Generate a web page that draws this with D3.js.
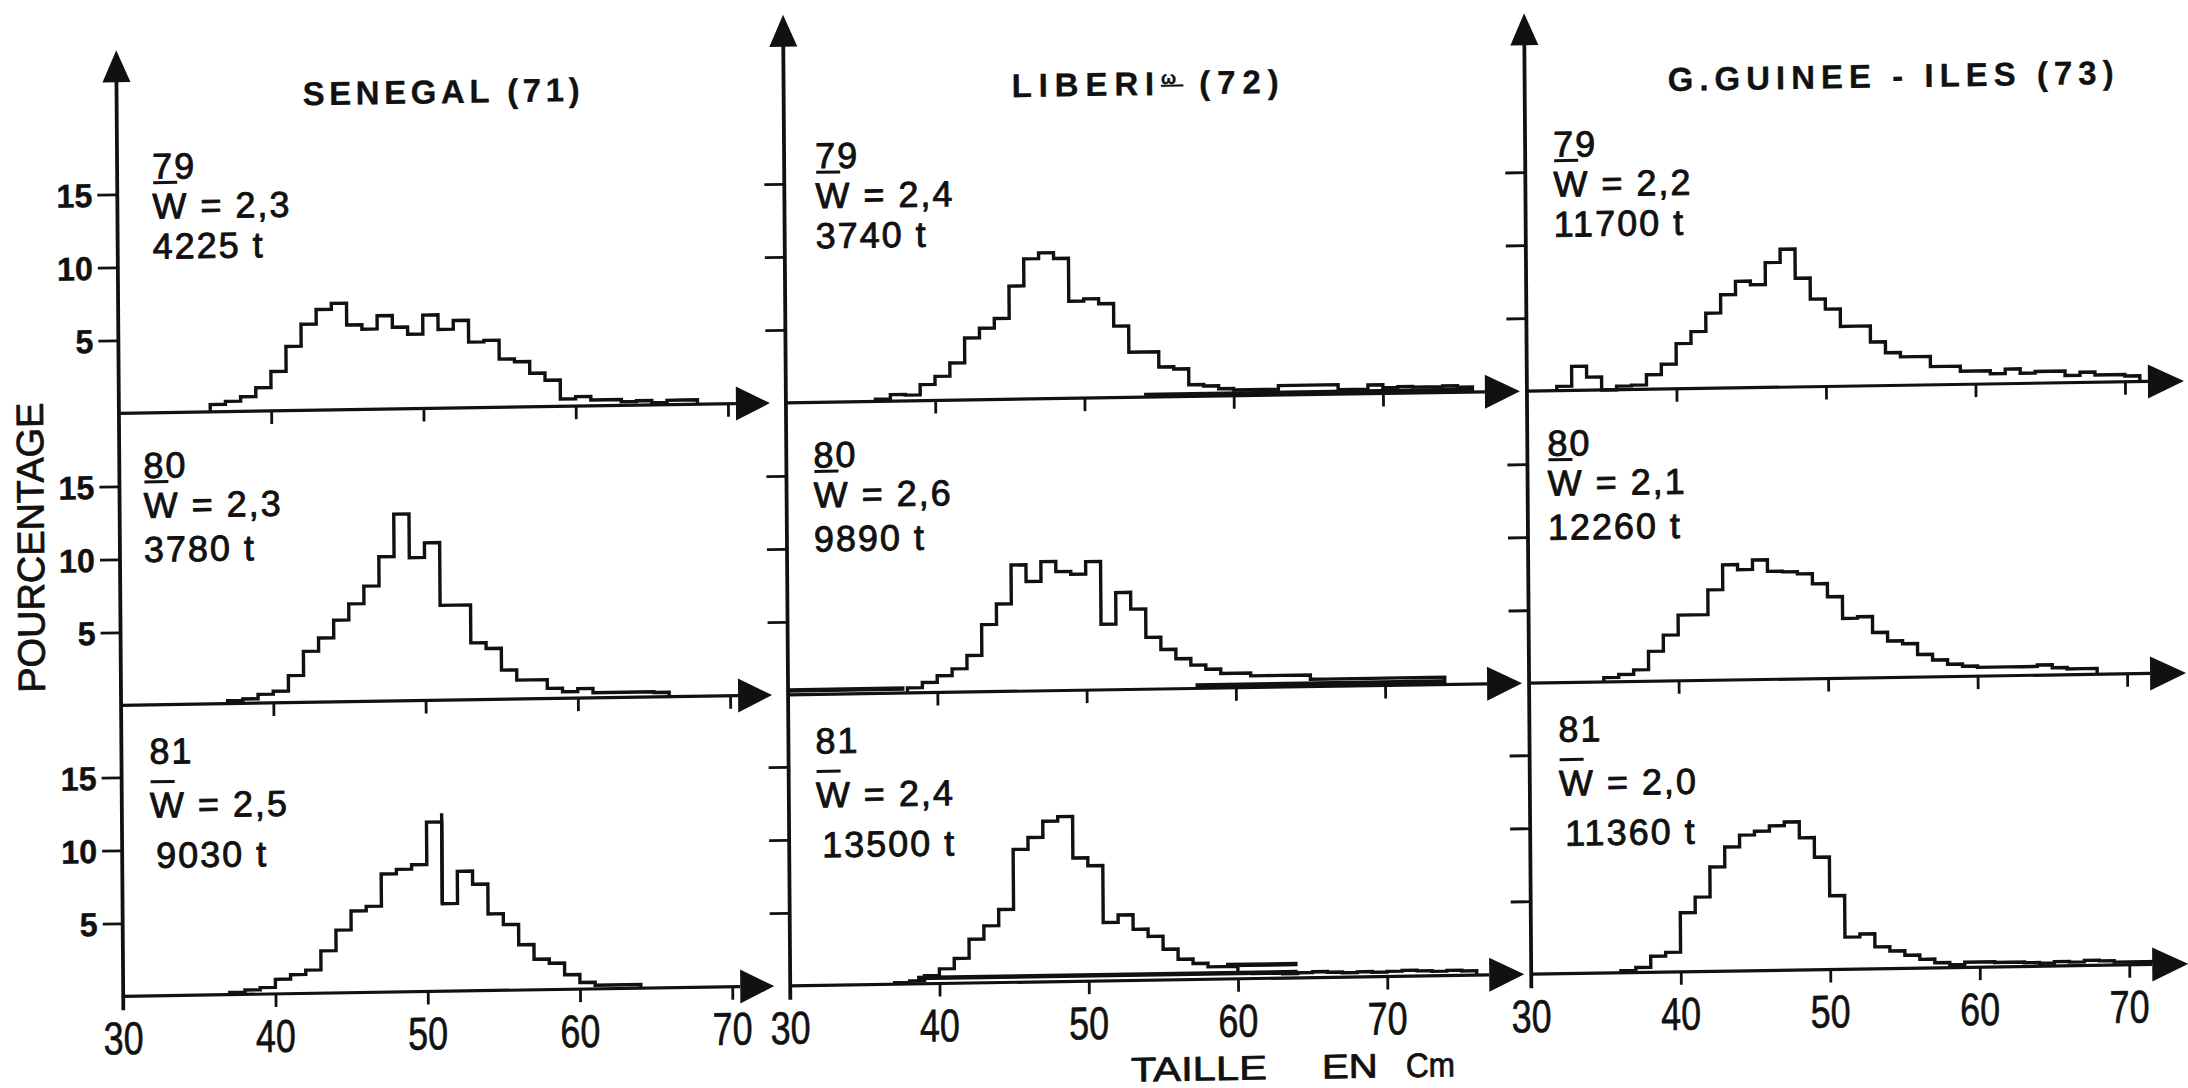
<!DOCTYPE html>
<html>
<head>
<meta charset="utf-8">
<script src="https://cdn.jsdelivr.net/npm/d3@7"></script>
<style>
  html, body { margin: 0; padding: 0; background: #fff; }
  svg { display: block; }
</style>
</head>
<body>
<svg id="chart" width="2188" height="1088"></svg>
<script>
// ---- Length-frequency distributions (% per 1 cm class) ----
const regions = ["SENEGAL", "LIBERIA", "G.GUINEE - ILES"];
const regionCodes = ["71", "72", "73"];
const years = ["79", "80", "81"];
const meanWeights = [["2,3", "2,3", "2,5"], ["2,4", "2,6", "2,4"], ["2,2", "2,1", "2,0"]];
const catchTonnes = [["4225", "3780", "9030"], ["3740", "9890", "13500"], ["11700", "12260", "11360"]];
const xTicks = [30, 40, 50, 60, 70];
const yTicks = [5, 10, 15];

// first length class (cm) of each distribution, [region][year]
const firstClass = [[36, 37, 37], [36, 38, 37], [32, 35, 36]];

const senegal79 = [0.5, 0.7, 1.0, 1.6, 2.7, 4.4, 5.9, 6.9, 7.3, 5.8, 5.5, 6.4, 5.6, 5.1, 6.4, 5.4,
  6.0, 4.5, 4.6, 3.3, 3.1, 2.3, 1.8, 0.5, 0.65, 0.4, 0.4, 0.25, 0.3, 0.15, 0.3, 0.3];
const senegal80 = [0.2, 0.3, 0.6, 0.8, 1.85, 3.5, 4.4, 5.6, 6.7, 7.9, 9.9, 12.8, 9.8, 10.8, 6.5,
  6.5, 3.9, 3.5, 2.0, 1.3, 1.3, 0.7, 0.45, 0.65, 0.35, 0.35, 0.35, 0.35, 0.3];
const senegal81 = [0.15, 0.3, 0.45, 1.0, 1.3, 1.6, 2.9, 4.3, 5.6, 5.9, 8.1, 8.4, 8.7, 11.6, 6.0,
  8.2, 7.3, 5.25, 4.5, 3.1, 2.1, 1.8, 1.0, 0.45, 0.25, 0.25, 0.25];
const liberia79 = [0.15, 0.45, 0.4, 1.1, 1.65, 2.55, 4.25, 4.9, 5.55, 7.75, 9.6, 10.0, 9.6, 6.65,
  6.8, 6.45, 4.9, 3.1, 3.1, 2.05, 1.9, 0.8, 0.7, 0.5, 0.4, 0.4, 0.4, 0.65, 0.65, 0.65, 0.65, 0.3,
  0.3, 0.6, 0.4, 0.45, 0.4, 0.4, 0.45, 0.35];
const liberia80 = [0.35, 0.7, 1.15, 1.6, 2.5, 4.6, 6.0, 8.65, 7.5, 8.85, 8.15, 7.95, 8.8, 4.5, 6.65,
  5.5, 3.55, 2.7, 2.05, 1.6, 1.3, 1.0, 1.0, 0.8, 0.8, 0.8, 0.8, 0.5, 0.5, 0.5, 0.5, 0.5, 0.5, 0.5,
  0.5, 0.5];
const liberia81 = [0.1, 0.2, 0.55, 1.0, 1.7, 3.0, 3.9, 5.0, 9.1, 9.9, 11.0, 11.3, 8.45, 7.9, 4.0,
  4.5, 3.5, 3.0, 2.1, 1.4, 1.1, 0.85, 0.85, 0.4, 0.35, 0.35, 0.3, 0.35, 0.4, 0.35, 0.3, 0.35, 0.3,
  0.35, 0.4, 0.35, 0.3, 0.35, 0.3];
const guinea79 = [0.3, 1.65, 0.9, 0, 0.25, 0.3, 1.0, 1.7, 3.1, 3.9, 5.15, 6.4, 7.3, 7.05, 8.55, 9.45,
  7.45, 6.0, 5.3, 4.1, 4.1, 3.0, 2.25, 1.95, 1.95, 1.25, 1.25, 0.9, 0.9, 0.7, 1.0, 0.7, 0.8, 0.8,
  0.5, 0.7, 0.5, 0.5, 0.4];
const guinea80 = [0.3, 0.5, 0.8, 2.05, 3.15, 4.5, 4.5, 6.2, 7.9, 7.55, 8.2, 7.4, 7.35, 7.2, 6.5, 5.6,
  4.1, 4.2, 3.1, 2.5, 2.3, 1.55, 1.15, 0.85, 0.7, 0.6, 0.6, 0.6, 0.6, 0.7, 0.5, 0.4, 0.4];
const guinea81 = [0.15, 0.35, 1.1, 1.35, 4.05, 5.1, 7.15, 8.5, 9.3, 9.55, 9.9, 10.15, 9.05, 7.7,
  5.05, 2.2, 2.4, 1.5, 1.2, 0.9, 0.6, 0.35, 0.2, 0.35, 0.35, 0.3, 0.3, 0.25, 0.2, 0.3, 0.25, 0.35,
  0.3, 0.2, 0.2, 0.2];

const distributions = [
  [senegal79, senegal80, senegal81],
  [liberia79, liberia80, liberia81],
  [guinea79, guinea80, guinea81]
];

// pen overshoot at the 51 cm class boundary (Senegal 81)
const spikes = [{ region: 0, year: 2, cm: 51, pct: 12.2 }];

// heavy low-level tracings near the abscissa (Liberia)
const overlays = [
  { region: 1, year: 0, from: 54, to: 76, pct: 0.15 },
  { region: 1, year: 1, from: 30, to: 37.8, pct: 0.3 },
  { region: 1, year: 1, from: 57.3, to: 74, pct: 0.2 },
  { region: 1, year: 2, from: 38.5, to: 64, pct: 0.4 },
  { region: 1, year: 2, from: 59.2, to: 64, pct: 0.95 }
];

// ---- layout ----
const colRange = [[120, 729], [787, 1384], [1528, 2126]];
const rowBase = [398, 690, 981];
const pctPx = 14.6;
const axisTip = [35, 10, 20];
const hArrow = [[737, 771], [1486, 1521], [2149, 2185]];
const titleBase = [93, 96, 100];
const titleSpan = [[306, 583], [1015, 1282], [1671, 2117]];
const labelDy = [[-234, -194, -154], [-227, -187, -143], [-232, -178, -128]];
const labelDx = [[35, 24, 28], [31, 27, 27], [28, 20, 29]];

const INK = "#111";
const FONT = "'Liberation Sans', Arial, sans-serif";

const svg = d3.select("#chart");
svg.append("rect").attr("width", 2188).attr("height", 1088).attr("fill", "#fff");

// the whole drawing sits slightly askew on the sheet
const root = svg.append("g").attr("transform", "matrix(1,-0.0157,0.0074,1,-4.03,17.18)");

function fitSpacing(sel, width) {
  const node = sel.node();
  const n = node.getNumberOfChars();
  const w = node.getComputedTextLength();
  if (n > 1) sel.attr("letter-spacing", (width - w) / (n - 1));
}

// hand lettering: glyphs drawn with a slightly heavier pen
function ink(sel, w) {
  return sel.attr("fill", INK).attr("stroke", INK).attr("stroke-width", w)
    .attr("stroke-linejoin", "round");
}

for (let c = 0; c < 3; c++) {
  const x = d3.scaleLinear().domain([30, 70]).range(colRange[c]);
  const col = root.append("g").attr("class", "region");
  const ax = x(30);

  // vertical axis with arrow
  const bottom = rowBase[2] + 14;
  col.append("line")
    .attr("x1", ax).attr("x2", ax)
    .attr("y1", axisTip[c] + 20).attr("y2", bottom)
    .attr("stroke", INK).attr("stroke-width", 3.8);
  col.append("path")
    .attr("d", `M${ax - 14},${axisTip[c] + 32}L${ax},${axisTip[c]}L${ax + 14},${axisTip[c] + 32}Z`)
    .attr("fill", INK);

  // region title
  const title = col.append("text")
    .attr("x", titleSpan[c][0]).attr("y", titleBase[c])
    .attr("font-family", FONT).attr("font-size", 33).attr("font-weight", "bold");
  ink(title, 0.3);
  if (c === 1) {
    title.append("tspan").text("LIBERI");
    title.append("tspan").attr("font-size", 18).attr("dy", -11)
      .attr("text-decoration", "underline").text("ω");
    title.append("tspan").attr("dy", 11).text(` (${regionCodes[c]})`);
  } else {
    title.text(`${regions[c]} (${regionCodes[c]})`);
  }
  fitSpacing(title, titleSpan[c][1] - titleSpan[c][0]);

  for (let r = 0; r < 3; r++) {
    const y = d3.scaleLinear().domain([0, 15]).range([rowBase[r], rowBase[r] - 15 * pctPx]);
    const g = col.append("g").attr("class", "panel");
    const y0 = y(0);

    // abscissa and arrow
    g.append("line")
      .attr("x1", ax).attr("x2", hArrow[c][0])
      .attr("y1", y0).attr("y2", y0)
      .attr("stroke", INK).attr("stroke-width", 3.2);
    g.append("path")
      .attr("d", `M${hArrow[c][0]},${y0 - 17}L${hArrow[c][1]},${y0}L${hArrow[c][0]},${y0 + 17}Z`)
      .attr("fill", INK);

    // ticks
    const xa = g.append("g").attr("transform", `translate(0,${y0})`)
      .call(d3.axisBottom(x).tickValues(xTicks.slice(1)).tickSize(13).tickFormat(""));
    xa.select(".domain").remove();
    xa.selectAll("line").attr("stroke", INK).attr("stroke-width", 2.8);

    const ya = g.append("g").attr("transform", `translate(${ax},0)`)
      .call(d3.axisLeft(y).tickValues(yTicks).tickSize(20).tickPadding(5)
        .tickFormat(c === 0 ? d3.format("d") : ""));
    ya.select(".domain").remove();
    ya.selectAll("line").attr("stroke", INK).attr("stroke-width", 2.8);
    ink(ya.selectAll("text"), 0.4)
      .attr("font-family", FONT).attr("font-size", 33).attr("font-weight", "bold")
      .attr("dy", "0.36em")
      .attr("lengthAdjust", "spacingAndGlyphs")
      .attr("textLength", d => (String(d).length > 1 ? 36 : 18));

    // distribution outline
    const vals = distributions[c][r];
    const start = firstClass[c][r];
    const pts = [[x(start), y(0)]];
    vals.forEach((v, i) => {
      pts.push([x(start + i), y(v)], [x(start + i + 1), y(v)]);
    });
    pts.push([x(start + vals.length), y(0)]);
    g.append("path")
      .attr("d", d3.line()(pts))
      .attr("fill", "none").attr("stroke", INK)
      .attr("stroke-width", 3.4).attr("stroke-linejoin", "miter");

    overlays.filter(o => o.region === c && o.year === r).forEach(o => {
      g.append("line")
        .attr("x1", x(o.from)).attr("x2", x(o.to))
        .attr("y1", y(o.pct)).attr("y2", y(o.pct))
        .attr("stroke", INK).attr("stroke-width", 4.5);
    });
    spikes.filter(s => s.region === c && s.year === r).forEach(s => {
      const i = s.cm - start;
      g.append("line")
        .attr("x1", x(s.cm)).attr("x2", x(s.cm))
        .attr("y1", y(Math.min(vals[i - 1], vals[i]))).attr("y2", y(s.pct))
        .attr("stroke", INK).attr("stroke-width", 3.4);
    });

    // sample annotations: year, mean weight, catch
    const lx = ax + labelDx[c][r];
    const txt = (yy, s, dx = 0) => ink(g.append("text"), 0.9)
      .attr("x", lx + dx).attr("y", y0 + yy)
      .attr("font-family", FONT).attr("font-size", 36)
      .attr("letter-spacing", 2).text(s);
    txt(labelDy[r][0], years[r]);
    txt(labelDy[r][1], `W = ${meanWeights[c][r]}`);
    txt(labelDy[r][2], `${catchTonnes[c][r]} t`, r === 2 ? 6 : 0);
    g.append("line")
      .attr("x1", lx + 1).attr("x2", lx + 25)
      .attr("y1", y0 + labelDy[r][1] - 36).attr("y2", y0 + labelDy[r][1] - 36)
      .attr("stroke", INK).attr("stroke-width", 3);
  }

  // length labels under the lowest panel
  ink(col.selectAll("text.xlab").data(xTicks).join("text"), 0.6)
    .attr("class", "xlab")
    .attr("x", d => x(d)).attr("y", rowBase[2] + 58)
    .attr("text-anchor", "middle")
    .attr("font-family", FONT).attr("font-size", 46)
    .attr("lengthAdjust", "spacingAndGlyphs").attr("textLength", 40)
    .text(d => d);
}

// axis titles
ink(root.append("text"), 0.8)
  .attr("transform", "translate(44,531) rotate(-90)")
  .attr("text-anchor", "middle")
  .attr("font-family", FONT).attr("font-size", 38)
  .attr("textLength", 290).attr("lengthAdjust", "spacingAndGlyphs")
  .text("POURCENTAGE");

const xTitle = [["TAILLE", 1127, 136], ["EN", 1318, 56], ["Cm", 1402, 49]];
xTitle.forEach(([s, x0, w]) => {
  ink(root.append("text"), 0.8)
    .attr("x", x0).attr("y", 1082)
    .attr("font-family", FONT).attr("font-size", 34)
    .attr("textLength", w).attr("lengthAdjust", "spacingAndGlyphs")
    .text(s);
});
</script>
</body>
</html>
